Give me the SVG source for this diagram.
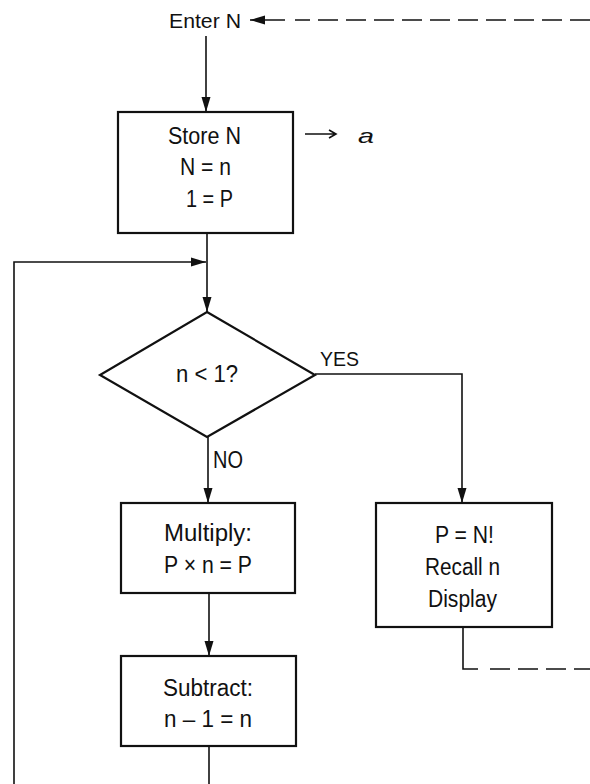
<svg xmlns="http://www.w3.org/2000/svg" width="590" height="784" viewBox="0 0 590 784">
<style>
.t{font-family:"Liberation Sans","Arial",sans-serif;font-size:23px;fill:#111}
.box{fill:none;stroke:#111;stroke-width:2.2}
.ln{fill:none;stroke:#111;stroke-width:1.6}
.dash{fill:none;stroke:#111;stroke-width:1.6;stroke-dasharray:20 8}
</style>
<defs>
<marker id="ah" markerUnits="userSpaceOnUse" markerWidth="16" markerHeight="10" refX="15" refY="5" orient="auto">
<path d="M0,0.5 L15,5 L0,9.5 z" fill="#111"/>
</marker>
</defs>
<rect width="590" height="784" fill="#fff"/>
<g id="connectors">
<path class="dash" d="M590,20 H295"/>
<path class="ln" d="M285,20 H250" marker-end="url(#ah)"/>
<path class="ln" d="M206,36 V112" marker-end="url(#ah)"/>
<path class="ln" d="M207,233 V312" marker-end="url(#ah)"/>
<path class="ln" d="M14,784 V262 H206" marker-end="url(#ah)"/>
<path class="ln" d="M208,437 V503" marker-end="url(#ah)"/>
<path class="ln" d="M315,374 H462 V503" marker-end="url(#ah)"/>
<path class="ln" d="M209,593 V656" marker-end="url(#ah)"/>
<path class="ln" d="M209,746 V784"/>
<path class="ln" d="M463,627 V669 H478"/>
<path class="dash" d="M490,669 H590"/>
<path class="ln" d="M305,134 H336 M329,130 L336,134 L329,138" stroke-width="2"/>
<text class="t" x="320" y="366" style="font-size:21px" textLength="39" lengthAdjust="spacingAndGlyphs">YES</text>
<text class="t" x="213" y="468" textLength="30" lengthAdjust="spacingAndGlyphs">NO</text>
</g>
<g id="enter">
<text class="t" x="169" y="28" style="font-size:20px" textLength="72" lengthAdjust="spacingAndGlyphs">Enter N</text>
</g>
<g id="store">
<rect class="box" x="118" y="112" width="175" height="121"/>
<text class="t" x="168" y="144" textLength="73" lengthAdjust="spacingAndGlyphs">Store N</text>
<text class="t" x="180" y="175" textLength="51" lengthAdjust="spacingAndGlyphs">N = n</text>
<text class="t" x="186" y="207" textLength="47" lengthAdjust="spacingAndGlyphs">1 = P</text>
</g>
<g id="register">
<text class="t" x="358" y="143" style="font-style:italic;font-size:21px" textLength="16" lengthAdjust="spacingAndGlyphs">a</text>
</g>
<g id="decision">
<polygon class="box" points="207,312 315,375 207,437 100,375"/>
<text class="t" x="176" y="382" textLength="62" lengthAdjust="spacingAndGlyphs">n &lt; 1?</text>
</g>
<g id="multiply">
<rect class="box" x="121" y="503" width="174" height="90"/>
<text class="t" x="164" y="541" textLength="88" lengthAdjust="spacingAndGlyphs">Multiply:</text>
<text class="t" x="164" y="573" textLength="88" lengthAdjust="spacingAndGlyphs">P × n = P</text>
</g>
<g id="subtract">
<rect class="box" x="121" y="656" width="175" height="90"/>
<text class="t" x="163" y="696" textLength="90" lengthAdjust="spacingAndGlyphs">Subtract:</text>
<text class="t" x="164" y="727" textLength="88" lengthAdjust="spacingAndGlyphs">n – 1 = n</text>
</g>
<g id="result">
<rect class="box" x="376" y="503" width="176" height="124"/>
<text class="t" x="435" y="543" textLength="59" lengthAdjust="spacingAndGlyphs">P = N!</text>
<text class="t" x="425" y="575" textLength="75" lengthAdjust="spacingAndGlyphs">Recall n</text>
<text class="t" x="428" y="607" textLength="69" lengthAdjust="spacingAndGlyphs">Display</text>
</g>
</svg>
